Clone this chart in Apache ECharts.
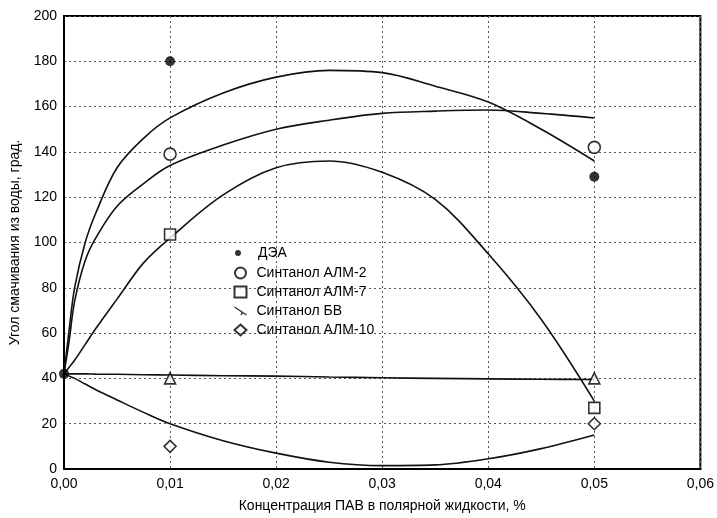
<!DOCTYPE html>
<html>
<head>
<meta charset="utf-8">
<script src="https://cdn.jsdelivr.net/npm/echarts@6/dist/echarts.min.js"></script>
<style>
  html, body { margin: 0; padding: 0; background: #fff; }
  #WettingChart { width: 717px; height: 518px; }
</style>
</head>
<body>
<div id="WettingChart"></div>
<script>
// Measured points (x = 0.01 and 0.05 %)
var markerX = [0.01, 0.05];
var startX = 0;
var startAngle = 42;
var dea = [180, 129];
var alm2 = [139, 142];
var alm7 = [103.5, 27];
var bv = [40, 40];
var alm10 = [10, 20];

// Fitted curves
var fitX = [0, 0.0005, 0.001, 0.002, 0.003, 0.005, 0.0075, 0.01, 0.015, 0.02, 0.025, 0.03, 0.035, 0.04, 0.045, 0.05];
var fitDea = [42, 62, 80, 100, 113, 133, 146, 155, 166, 173, 176, 175, 169, 162, 150, 136];
var fitAlm2 = [42, 57, 74, 92, 102, 116, 126, 134, 143, 150, 154, 157, 158, 158.5, 157, 155];
var fitAlm7 = [42, 45, 48, 55, 62, 75, 91, 102, 121, 133, 136, 131, 119, 95, 66, 30];
var fitBv = [42, 42, 42, 42, 41.9, 41.8, 41.6, 41.5, 41.2, 41, 40.6, 40.3, 40, 39.8, 39.6, 39.5];
var fitAlm10 = [42, 41, 40, 37.5, 35, 30.5, 25, 20, 12.5, 7, 3, 1.5, 1.8, 4.5, 9, 15];

var names = ['ДЭА', 'Синтанол АЛМ-2', 'Синтанол АЛМ-7', 'Синтанол БВ', 'Синтанол АЛМ-10'];

var font = 'Liberation Sans, Arial, sans-serif';

function pairs(xs, ys) {
  return ys.map(function (y, i) { return [xs[i], y]; });
}

function fitLine(name, ys) {
  return {
    name: name + ' fit',
    type: 'line',
    data: pairs(fitX, ys),
    smooth: 0.35,
    showSymbol: false,
    lineStyle: { color: '#111', width: 1.6 },
    z: 2
  };
}

function points(name, symbol, size, ys, filled) {
  return {
    name: name,
    type: 'scatter',
    symbol: symbol,
    symbolSize: size,
    data: pairs(markerX, ys),
    itemStyle: filled
      ? { color: '#000' }
      : { color: '#fff', borderColor: '#000', borderWidth: 1.6 },
    z: 5
  };
}

var chartDom = document.getElementById('WettingChart');
var chart = echarts.init(chartDom);

var deaSeries = points(names[0], 'circle', 10, dea, true);
deaSeries.data.unshift([startX, startAngle]);

var option = {
  animation: false,
  backgroundColor: '#fff',
  textStyle: { fontFamily: font },
  grid: {
    left: 62,
    top: 16,
    right: 16,
    bottom: 47,
    show: true,
    borderColor: '#000',
    borderWidth: 2
  },
  legend: [
    {
      data: [{ name: names[0], icon: 'circle' }],
      left: 230,
      top: 241,
      itemWidth: 12,
      itemHeight: 6,
      selectedMode: false,
      textStyle: { fontFamily: font, fontSize: 14, color: '#000', padding: [0, 0, 0, 9] }
    },
    {
      data: [
        { name: names[1], icon: 'circle' },
        { name: names[2], icon: 'rect' },
        {
          name: names[3],
          icon: 'path://M0,0 L18,12 M12,7 L10,12',
          itemStyle: { color: 'none', borderColor: '#000', borderWidth: 1.5 }
        },
        { name: names[4], icon: 'diamond' }
      ],
      orient: 'vertical',
      left: 227,
      top: 261,
      itemWidth: 12,
      itemHeight: 11,
      itemGap: 5,
      selectedMode: false,
      textStyle: { fontFamily: font, fontSize: 14, color: '#000', padding: [0, 0, 0, 5] }
    }
  ],
  xAxis: {
    type: 'value',
    min: 0,
    max: 0.06,
    interval: 0.01,
    name: 'Концентрация ПАВ в полярной жидкости, %',
    nameLocation: 'middle',
    nameGap: 30,
    nameTextStyle: { fontFamily: font, fontSize: 14, color: '#000' },
    axisLine: { lineStyle: { color: '#000', width: 2 } },
    axisTick: { show: false },
    axisLabel: {
      margin: 8,
      fontSize: 14,
      color: '#000',
      formatter: function (v) { return v.toFixed(2).replace('.', ','); }
    },
    splitLine: { show: true, lineStyle: { color: '#555', type: [2, 3], width: 1 } }
  },
  yAxis: {
    type: 'value',
    min: 0,
    max: 200,
    interval: 20,
    name: 'Угол смачивания из воды, град.',
    nameLocation: 'middle',
    nameGap: 42,
    nameTextStyle: { fontFamily: font, fontSize: 14, color: '#000' },
    axisLine: { show: true, lineStyle: { color: '#000', width: 2 } },
    axisTick: { show: false },
    axisLabel: { margin: 7, fontSize: 14, color: '#000' },
    splitLine: { show: true, lineStyle: { color: '#555', type: [2, 3], width: 1 } }
  },
  series: [
    fitLine(names[0], fitDea),
    fitLine(names[1], fitAlm2),
    fitLine(names[2], fitAlm7),
    fitLine(names[3], fitBv),
    fitLine(names[4], fitAlm10),
    deaSeries,
    points(names[1], 'circle', 12, alm2, false),
    points(names[2], 'rect', 11, alm7, false),
    points(names[3], 'triangle', 11, bv, false),
    points(names[4], 'diamond', 12, alm10, false)
  ]
};

option && chart.setOption(option);
window.addEventListener('resize', function () {
  chart.resize();
});
</script>
</body>
</html>
